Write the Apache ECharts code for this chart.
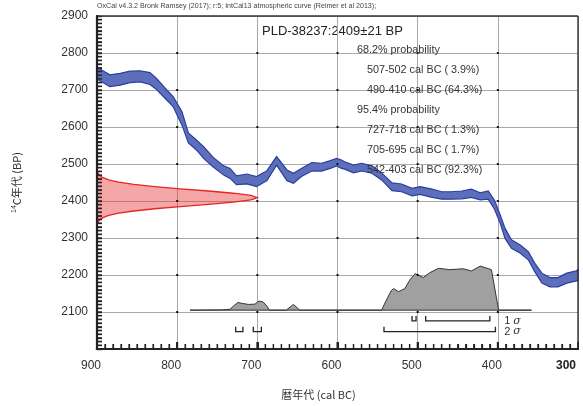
<!DOCTYPE html>
<html>
<head>
<meta charset="utf-8">
<script src="https://cdn.jsdelivr.net/npm/echarts@6/dist/echarts.min.js"></script>
<style>
html,body{margin:0;padding:0;background:#fff;}
#chart{width:583px;height:406px;}
</style>
</head>
<body>
<div id="chart"></div>
<script>
// ---------- data ----------
const headerText = 'OxCal v4.3.2 Bronk Ramsey (2017); r:5; IntCal13 atmospheric curve (Reimer et al 2013);';
const resultTitle = 'PLD-38237:2409\u00b121 BP';
const probLines = ['68.2% probability', '507-502 cal BC ( 3.9%)', '490-410 cal BC (64.3%)',
                   '95.4% probability', '727-718 cal BC ( 1.3%)', '705-695 cal BC ( 1.7%)', '542-403 cal BC (92.3%)'];
const xAxisName = '暦年代 (cal BC)';
const yAxisName = '{sup|14}C年代 (BP)';

// calibration curve (IntCal13 band), cal BC vs 14C BP
const calYear = [900,898,884,871,859,846,834,826,813,805,794,786,776,767,755,742,734,726,713,701,
                 688,676,663,655,645,632,620,609,601,595,591,580,570,557,545,532,520,507,497,482,
                 470,458,445,433,422,412,404,397,391,383,372,362,354,345,335,325,314,302,300];
const curveHigh = [2764,2759,2741,2745,2751,2752,2747,2732,2700,2682,2641,2584,2565,2547,2518,2495,2488,2468,2473,2466,
                   2482,2520,2484,2475,2488,2504,2502,2509,2515,2511,2506,2497,2502,2495,2476,2449,2446,2434,2439,2432,
                   2425,2425,2427,2432,2422,2427,2401,2362,2326,2295,2281,2263,2232,2205,2193,2193,2205,2211,2215];
const curveLow = [2728,2727,2709,2713,2720,2722,2715,2702,2673,2655,2605,2557,2538,2515,2492,2470,2461,2444,2446,2439,
                  2455,2497,2455,2448,2466,2481,2481,2488,2495,2488,2486,2476,2481,2475,2457,2428,2425,2414,2418,2410,
                  2405,2405,2406,2410,2403,2405,2377,2340,2299,2272,2259,2241,2209,2178,2168,2168,2178,2184,2184];

// measured 14C date distribution (relative %, along BP)
const radioBP = [2479,2475,2469,2463,2457,2451,2445,2439,2433,2427,2421,2415,2409,2403,2397,2391,2385,2379,2373,2367,2361,2355,2349,2343,2339];
const radioProb = [0,0.7,1.7,3.7,7.3,13.5,23,36,52,69.5,85,96,100,96,85,69.5,52,36,23,13.5,7.3,3.7,1.7,0.7,0];

// calibrated distribution (relative %, along cal BC)
const calDistYear = [784,745,734,730,724,718,711,703,698,693,688,685,664,655,647,545,539,533,530,524,
                     516,510,503,493,485,474,460,443,433,422,408,399,358];
const calDistProb = [0,0.5,2,9,17.5,15,13,13.6,20.5,19,9,0,0,13,0,0,23,44,49,42,
                     49,68,83,74,85,95,92,94,89,100,92,0,0];

// sigma ranges (cal BC)
const sigma1 = [[507,502],[490,410]];
const sigma2 = [[727,718],[705,695],[542,403]];
const sigmaLabels = ['1', '2'];

// axis ranges / ticks
const xMin = 300, xMax = 900, xStep = 100, xMinorStep = 10;
const yMin = 2000, yMax = 2900, yStep = 100, yMinorStep = 10;

// ---------- layout constants ----------
const radioBaseYear = 900, radioScale = 2.0;     // years per %
const calDistBase = 2105, calDistScale = 1.19;   // BP per %
const sigmaLevels = [2076, 2047], sigmaTick = 13, sigmaLabelYear = 392;
const anchor = [[600, 2500]];

const chart = echarts.init(document.getElementById('chart'), null, {renderer:'canvas'});

function bandItem(params, api) {
  const pts = [];
  for (let i = 0; i < calYear.length; i++) pts.push(api.coord([calYear[i], curveHigh[i]]));
  for (let i = calYear.length - 1; i >= 0; i--) pts.push(api.coord([calYear[i], curveLow[i]]));
  return {type:'polygon', shape:{points:pts}, style:{fill:'#5d6ebb', stroke:'#2a3f9f', lineWidth:1.2}};
}
function radioItem(params, api) {
  const pts = [];
  for (let i = 0; i < radioBP.length; i++) pts.push(api.coord([radioBaseYear - radioProb[i]*radioScale, radioBP[i]]));
  return {type:'group', children:[
    {type:'polygon', shape:{points:pts}, style:{fill:'rgba(232,60,60,0.45)', stroke:null}},
    {type:'polyline', shape:{points:pts}, style:{fill:null, stroke:'#e82424', lineWidth:1.3}}
  ]};
}
function calDistItem(params, api) {
  const pts = [];
  for (let i = 0; i < calDistYear.length; i++) pts.push(api.coord([calDistYear[i], calDistBase + calDistProb[i]*calDistScale]));
  return {type:'polygon', shape:{points:pts}, style:{fill:'#a0a0a0', stroke:'#333', lineWidth:1}};
}
const sigmaData = [];
sigma1.forEach(r => sigmaData.push([r[0], r[1], 0]));
sigma2.forEach(r => sigmaData.push([r[0], r[1], 1]));
function sigmaItem(params, api) {
  const a = api.value(0), b = api.value(1), lv = api.value(2);
  const y = sigmaLevels[lv];
  const pts = [api.coord([a, y + sigmaTick]), api.coord([a, y]), api.coord([b, y]), api.coord([b, y + sigmaTick])];
  const children = [{type:'polyline', shape:{points:pts}, style:{fill:null, stroke:'#222', lineWidth:1.3}}];
  const isLast = (lv === 0 && params.dataIndex === sigma1.length - 1) || (lv === 1 && params.dataIndex === sigmaData.length - 1);
  if (isLast) {
    const p = api.coord([sigmaLabelYear, y]);
    children.push({type:'text', x:p[0], y:p[1], style:{
      text:'{n|' + sigmaLabels[lv] + '}{s|\u03c3}', verticalAlign:'middle', align:'left',
      rich:{n:{fontSize:11, fontFamily:'Liberation Sans', fill:'#333'}, s:{fontSize:11, fontStyle:'italic', fontFamily:'DejaVu Serif', fill:'#333', padding:[0,0,0,3]}}
    }});
  }
  return {type:'group', children};
}
// separate small custom series for frame pieces (each through the axis scales)
function yTicksItem(params, api) {
  const ch = [];
  for (let v = yMin + yMinorStep; v < yMax; v += yMinorStep) {
    const p = api.coord([xMax, v]);
    ch.push({type:'rect', shape:{x:p[0], y:p[1] - 0.7, width:5, height:1.4}, style:{fill:'#222'}});
  }
  return {type:'group', children:ch};
}
function xTicksItem(params, api) {
  const ch = [];
  for (let v = xMin + xMinorStep; v < xMax; v += xMinorStep) {
    const p = api.coord([v, yMin]);
    const major = (v % xStep === 0);
    const w = major ? 2 : 1.3, h = major ? 7 : 5;
    ch.push({type:'rect', shape:{x:p[0] - w / 2, y:p[1] - h, width:w, height:h}, style:{fill:'#222'}});
  }
  return {type:'group', children:ch};
}
function axesItem(params, api) {
  const bl = api.coord([xMax, yMin]), tl = api.coord([xMax, yMax]), br = api.coord([xMin, yMin]), tr = api.coord([xMin, yMax]);
  return {type:'group', children:[
    {type:'rect', shape:{x:tl[0], y:tl[1] - 0.7, width:tr[0] - tl[0], height:1.4}, style:{fill:'#333'}},
    {type:'rect', shape:{x:tr[0] - 0.7, y:tr[1], width:1.4, height:br[1] - tr[1]}, style:{fill:'#333'}},
    {type:'rect', shape:{x:bl[0] - 1.1, y:tl[1] - 0.7, width:2.2, height:bl[1] - tl[1] + 1.8}, style:{fill:'#222'}},
    {type:'rect', shape:{x:bl[0] - 1.1, y:bl[1] - 1.1, width:br[0] - bl[0] + 1.8, height:2.2}, style:{fill:'#222'}}
  ]};
}
function dotsItem(params, api) {
  const ch = [];
  for (let x = xMin + xStep; x < xMax; x += xStep) {
    for (let y = yMin + yStep; y < yMax; y += yStep) {
      const p = api.coord([x, y]);
      ch.push({type:'rect', shape:{x:p[0] - 1, y:p[1] - 1, width:2, height:2}, style:{fill:'#111'}});
    }
  }
  return {type:'group', children:ch};
}

const graphic = [
  {type:'text', left:97, top:3, style:{text:headerText, font:'7.1px "Liberation Sans"', fill:'#444'}},
  {type:'text', left:262, top:25, style:{text:resultTitle, font:'13px "Liberation Sans"', fill:'#222'}}
];
probLines.forEach((t, i) => {
  const header = t.indexOf('probability') >= 0;
  graphic.push({type:'text', left: header ? 357 : 367, top: 45 + i*20, z:100,
    style:{text:t, font:'10.8px "Liberation Sans"', fill:'#333'}});
});

const option = {
  animation:false,
  grid:{left:97, right:5, top:16, height:333, outerBoundsMode:'none'},
  xAxis:{
    type:'value', min:xMin, max:xMax, interval:xStep, inverse:true,
    name:xAxisName, nameLocation:'middle', nameGap:40,
    nameTextStyle:{fontFamily:'Noto Sans CJK JP', fontSize:11, color:'#333', padding:[0,38,0,0]},
    axisLine:{show:true, onZero:false, lineStyle:{color:'#222', width:2}},
    axisTick:{show:true, inside:true, length:7, lineStyle:{color:'#222', width:2}},
    minorTick:{show:true, splitNumber:10, length:5, lineStyle:{color:'#222', width:1.2}},
    splitLine:{show:true, lineStyle:{color:'#a8a8a8', width:1}},
    axisLabel:{margin:11, color:'#333', fontSize:12, fontFamily:'Liberation Sans', padding:[0,12,0,0],
      formatter: v => v === xMin ? '{b|' + v + '}' : String(v),
      rich:{b:{fontWeight:'bold', fontSize:12, fontFamily:'Liberation Sans', color:'#222', padding:[0,12,0,0]}}}
  },
  yAxis:{
    type:'value', min:yMin, max:yMax, interval:yStep,
    name:yAxisName, nameLocation:'middle', nameGap:74, nameRotate:90,
    nameTextStyle:{fontFamily:'Noto Sans CJK JP', fontSize:11, color:'#333',
      rich:{sup:{fontSize:7, fontFamily:'Liberation Sans', color:'#333', padding:[0,0,5,0]}}},
    axisLine:{show:true, onZero:false, lineStyle:{color:'#222', width:2}},
    axisTick:{show:true, inside:true, length:5, lineStyle:{color:'#222', width:1.4}},
    minorTick:{show:true, splitNumber:10, length:5, lineStyle:{color:'#222', width:1.3}},
    splitLine:{show:true, lineStyle:{color:'#a8a8a8', width:1}},
    axisLabel:{margin:9, color:'#333', fontSize:12, fontFamily:'Liberation Sans',
      formatter: v => v === yMin ? '' : String(v)}
  },
  series:[
    {type:'custom', renderItem:bandItem, data:anchor, clip:false},
    {type:'custom', renderItem:radioItem, data:anchor, clip:false},
    {type:'custom', renderItem:calDistItem, data:anchor, clip:false},
    {type:'custom', renderItem:sigmaItem, data:sigmaData, clip:false},
    {type:'custom', renderItem:dotsItem, data:anchor, clip:false},
    {type:'custom', renderItem:yTicksItem, data:anchor, clip:false},
    {type:'custom', renderItem:xTicksItem, data:anchor, clip:false},
    {type:'custom', renderItem:axesItem, data:anchor, clip:false}
  ],
  graphic
};
chart.setOption(option);
</script>
</body>
</html>
